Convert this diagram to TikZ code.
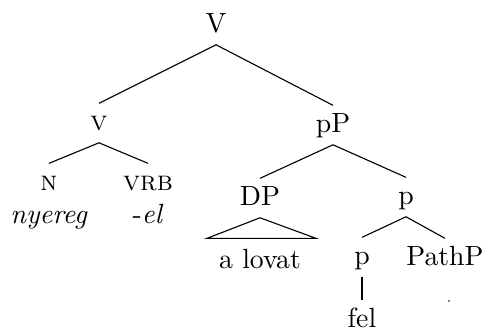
\documentclass[tikz,border=0pt]{standalone}
\usepackage{amsmath,amssymb}
\usepackage{tikz}
\usetikzlibrary{calc}
\tikzset{
  lbl/.style={anchor=base,text height=7pt,text depth=2pt,inner sep=2.4pt},
  brn/.style={line width=0.4pt},
}
\begin{document}
\begin{tikzpicture}[x=0.36pt,y=-0.36pt]
\useasboundingbox (0,0) rectangle (489,329);
% labels
\node[lbl] (V) at (216,32) {V};
\node[lbl] (v) at (99,130) {\textsc{v}}; \node[lbl] (pP) at (333,132) {pP};
\node[lbl] (N) at (49,190) {\textsc{n}}; \node[lbl] (vrb) at (148,190) {\textsc{vrb}};
\node[lbl] (nyereg) at (49,223) {\textit{nyereg}}; \node[lbl] (el) at (148,223) {-\textit{el}};
\node[lbl] (DP) at (260,205) {DP}; \node[lbl] (p) at (406,204) {p};
\node[lbl] (lovat) at (260,268) {a lovat};
\node[lbl] (plow) at (362,264) {p}; \node[lbl] (PathP) at (445,265) {PathP};
\node[lbl] (fel) at (362,327) {fel};
\coordinate (pathdot) at (449,301);
% branches
\draw[brn] (v.north) -- (V.south) -- (pP.north);
\draw[brn] (N.north) -- (v.south) -- (vrb.north);
\draw[brn] (DP.north) -- (pP.south) -- (p.north);
\draw[brn] (plow.north) -- (p.south) -- (PathP.north);
\draw[brn] (plow.south) -- (fel.north);
\draw[brn] (DP.south) -- ($(lovat.north)+(-53,-3)$) -- ($(lovat.north)+(56,-3)$) -- cycle;
\fill (pathdot) circle (0.8);
\end{tikzpicture}
\end{document}
